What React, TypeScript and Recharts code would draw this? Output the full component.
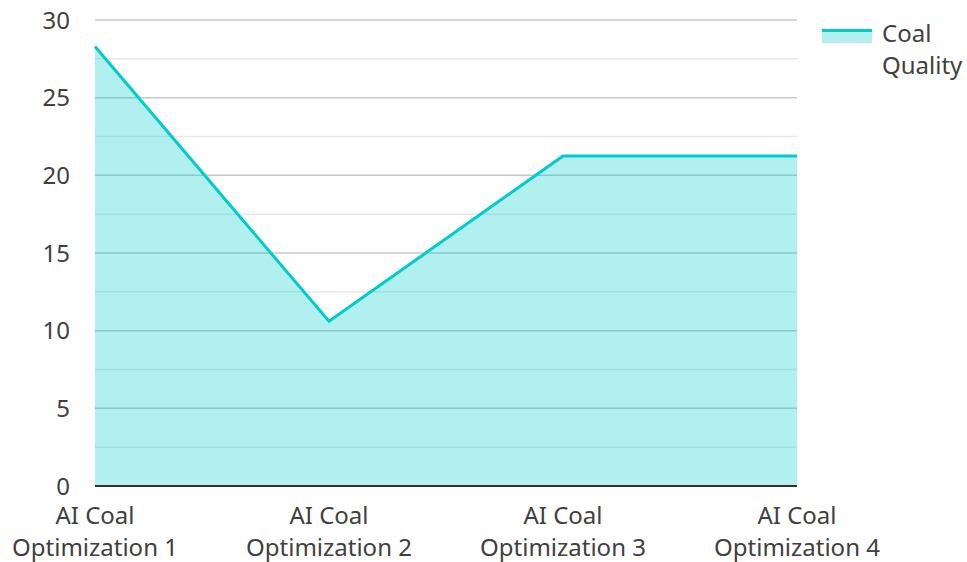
import React from "react";
import { AreaChart, Area, XAxis, YAxis, CartesianGrid } from "recharts";

const categories = [
  "AI Coal Optimization 1",
  "AI Coal Optimization 2",
  "AI Coal Optimization 3",
  "AI Coal Optimization 4",
];
const coalQuality = [28.3, 10.6, 21.25, 21.25];
const yTicks = [0, 2.5, 5, 7.5, 10, 12.5, 15, 17.5, 20, 22.5, 25, 27.5, 30];

const data = categories.map((name, i) => ({ name, quality: coalQuality[i] }));

const FONT = "'Noto Sans', 'Open Sans', sans-serif";
const TEXT = "#404040";
const TEAL = "#00CCCC";
const FS = 24;

const XTick = (props: any) => {
  const { x, y, payload } = props;
  const words = String(payload.value).split(" ");
  const first = words.slice(0, 2).join(" ");
  const second = words.slice(2).join(" ");
  return (
    <text x={x} y={y} textAnchor="middle" fill={TEXT} fontSize={FS} fontFamily={FONT}>
      <tspan x={x} dy={38}>{first}</tspan>
      <tspan x={x} dy={32}>{second}</tspan>
    </text>
  );
};

const gridLine = (props: any) => {
  const { x1, x2, y1, y2, index } = props;
  const major = index % 2 === 0;
  return (
    <line
      key={`g-${index}`}
      x1={x1}
      x2={x2}
      y1={y1}
      y2={y2}
      stroke={major ? "#c8c8c8" : "#e8e8e8"}
      strokeWidth={1.5}
    />
  );
};

const LegendBox = () => (
  <div
    style={{
      position: "absolute",
      left: 822,
      top: 24,
      display: "flex",
      fontFamily: FONT,
      fontSize: FS,
      color: TEXT,
    }}
  >
    <div style={{ width: 50, height: 14, marginTop: 5, marginRight: 10 }}>
      <div style={{ height: 3, background: TEAL }} />
      <div style={{ height: 11, background: "rgba(0,204,204,0.3)" }} />
    </div>
    <div style={{ lineHeight: "32px", marginTop: -7 }}>
      Coal
      <br />
      Quality
    </div>
  </div>
);

export default function App() {
  return (
    <div style={{ position: "absolute", left: 0, top: 0, width: 967, height: 562, background: "#fff" }}>
      <AreaChart
        width={967}
        height={562}
        data={data}
        margin={{ top: 20, right: 170, bottom: 0, left: 0 }}
      >
        <CartesianGrid vertical={false} horizontal={gridLine} />
        <XAxis
          dataKey="name"
          tick={<XTick />}
          tickLine={false}
          tickSize={0}
          tickMargin={0}
          height={76}
          interval={0}
          axisLine={{ stroke: "#333", strokeWidth: 2 }}
        />
        <YAxis
          domain={[0, 30]}
          ticks={yTicks}
          interval={0}
          width={95}
          axisLine={false}
          tickLine={false}
          tickSize={0}
          tickMargin={25}
          tickFormatter={(v: number) => (v % 5 === 0 ? String(v) : "")}
          tick={{ fill: TEXT, fontSize: FS, fontFamily: FONT }}
        />
        <Area
          type="linear"
          dataKey="quality"
          name="Coal Quality"
          stroke={TEAL}
          strokeWidth={3}
          fill={TEAL}
          fillOpacity={0.3}
          isAnimationActive={false}
        />
      </AreaChart>
      <LegendBox />
    </div>
  );
}
